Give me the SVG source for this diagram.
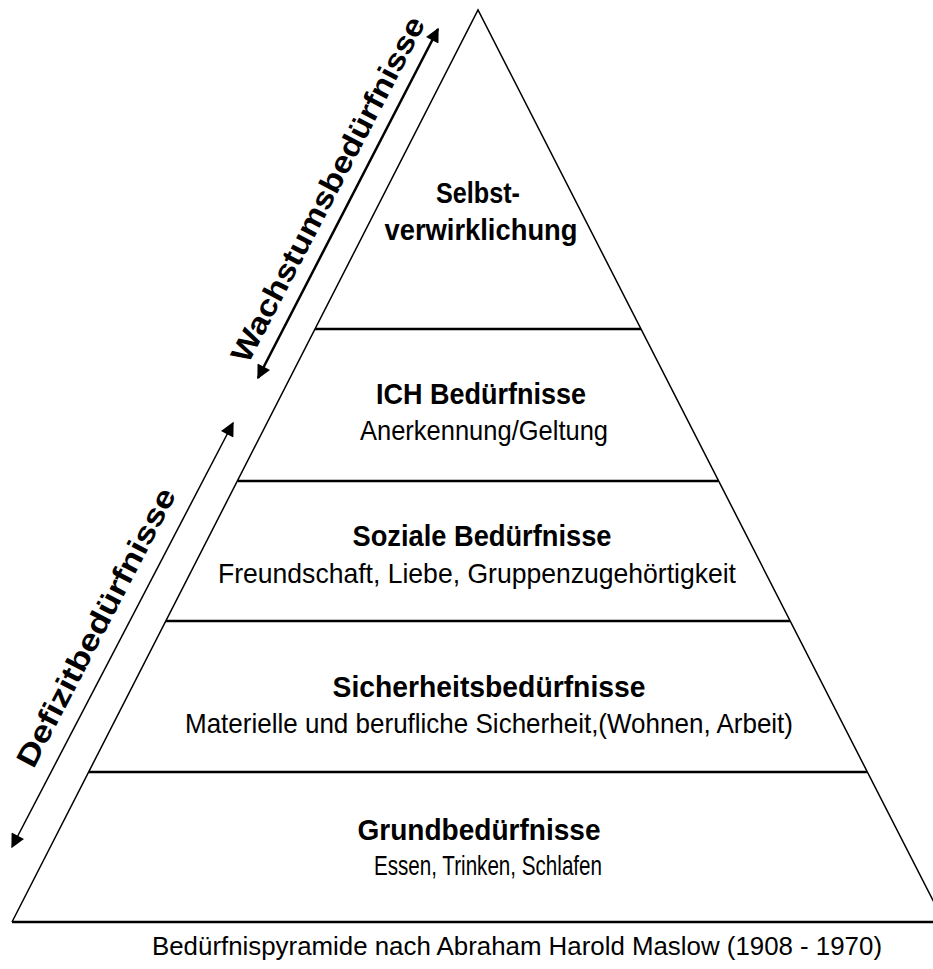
<svg xmlns="http://www.w3.org/2000/svg" width="933" height="969" viewBox="0 0 933 969">
<style>
.t{font-family:"Liberation Sans",Arial,sans-serif;fill:#000;text-anchor:middle}
.b{font-weight:bold;font-size:30px}
.r{font-size:28px}
.side{stroke:#000;stroke-width:1.5;fill:none}
.tier{stroke:#000;stroke-width:2.5;fill:none}
.arr{stroke:#000;fill:none;marker-start:url(#ah);marker-end:url(#ah)}
</style>
<defs>
<marker id="ah" viewBox="0 0 10 10" refX="9" refY="5" markerWidth="16" markerHeight="14" orient="auto-start-reverse" markerUnits="userSpaceOnUse">
<path d="M0,0 L10,5 L0,10 z" fill="#000"/>
</marker>
</defs>
<rect width="933" height="969" fill="#fff"/>
<g id="pyramid">
<path class="side" d="M12,922 L478,10 L944,922"/>
<line class="tier" x1="12" y1="922" x2="933" y2="922"/>
</g>
<g id="tier-selbst">
<line class="tier" x1="315" y1="329" x2="641" y2="329"/>
<text class="t b" x="478" y="203" textLength="84" lengthAdjust="spacingAndGlyphs">Selbst-</text>
<text class="t b" x="481" y="240" textLength="193" lengthAdjust="spacingAndGlyphs">verwirklichung</text>
</g>
<g id="tier-ich">
<line class="tier" x1="238" y1="481" x2="718" y2="481"/>
<text class="t b" x="481" y="404" textLength="210" lengthAdjust="spacingAndGlyphs">ICH Bedürfnisse</text>
<text class="t r" x="484" y="440" textLength="248" lengthAdjust="spacingAndGlyphs">Anerkennung/Geltung</text>
</g>
<g id="tier-sozial">
<line class="tier" x1="166" y1="621" x2="790" y2="621"/>
<text class="t b" x="482" y="546" textLength="259" lengthAdjust="spacingAndGlyphs">Soziale Bedürfnisse</text>
<text class="t r" x="477" y="583" textLength="518" lengthAdjust="spacingAndGlyphs">Freundschaft, Liebe, Gruppenzugehörtigkeit</text>
</g>
<g id="tier-sicherheit">
<line class="tier" x1="89" y1="772" x2="867" y2="772"/>
<text class="t b" x="489" y="697" textLength="313" lengthAdjust="spacingAndGlyphs">Sicherheitsbedürfnisse</text>
<text class="t r" x="489" y="733" textLength="608" lengthAdjust="spacingAndGlyphs">Materielle und berufliche Sicherheit,(Wohnen, Arbeit)</text>
</g>
<g id="tier-grund">
<text class="t b" x="479" y="840" textLength="243" lengthAdjust="spacingAndGlyphs">Grundbedürfnisse</text>
<text class="t r" x="488" y="875" textLength="228" lengthAdjust="spacingAndGlyphs">Essen, Trinken, Schlafen</text>
</g>
<g id="connectors">
<line class="arr" stroke-width="2.5" x1="258" y1="378" x2="438" y2="29"/>
<line class="arr" stroke-width="1.5" x1="12" y1="847" x2="233" y2="423"/>
</g>
<g id="label-wachstum">
<text class="t b" font-size="32" transform="translate(337,194) rotate(-62.5)" x="0" y="0" textLength="385" lengthAdjust="spacingAndGlyphs">Wachstumsbedürfnisse</text>
</g>
<g id="label-defizit">
<text class="t b" transform="translate(105,632) rotate(-62.5)" x="0" y="0" textLength="310" lengthAdjust="spacingAndGlyphs">Defizitbedürfnisse</text>
</g>
<g id="caption">
<text class="t" font-size="26" x="517" y="955" textLength="730" lengthAdjust="spacingAndGlyphs">Bedürfnispyramide nach Abraham Harold Maslow (1908 - 1970)</text>
</g>
</svg>
